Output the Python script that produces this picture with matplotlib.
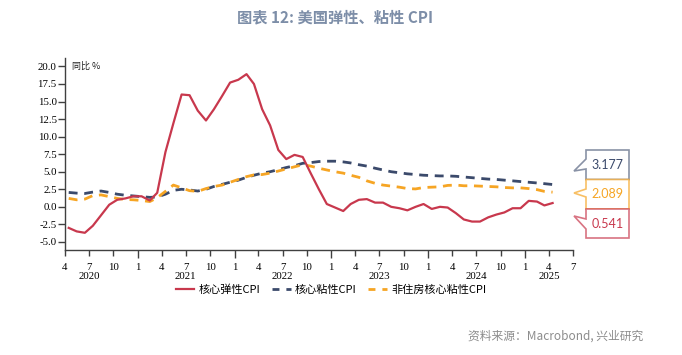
import numpy as np
import pandas as pd
import matplotlib
matplotlib.use("Agg")
from matplotlib import pyplot as plt
import matplotlib.dates as mdates
from matplotlib.patches import Polygon
from matplotlib.lines import Line2D

plt.rcParams['font.family'] = ['Noto Sans CJK SC', 'DejaVu Sans']

# monthly data, 2020-04 .. 2025-04
months = pd.date_range('2020-04-01', '2025-04-01', freq='MS') + pd.Timedelta(days=14)

flexible_core = [-3.0, -3.5, -3.7, -2.7, -1.2, 0.3, 1.0, 1.2, 1.5, 1.5,
                 0.9, 2.0, 7.8, 11.9, 16.0, 15.9, 13.7, 12.3, 13.9, 15.8,
                 17.7, 18.1, 18.9, 17.5, 13.9, 11.6, 8.1, 6.8, 7.4, 7.1,
                 4.8, 2.5, 0.4, -0.1, -0.6, 0.4, 1.0, 1.1, 0.6, 0.6,
                 0.0, -0.2, -0.5, 0.0, 0.4, -0.3, 0.0, -0.1, -0.9, -1.8,
                 -2.1, -2.1, -1.5, -1.1, -0.8, -0.2, -0.2, 0.85, 0.75, 0.2,
                 0.541]
sticky_core = [2.05, 1.95, 1.9, 2.1, 2.25, 2.05, 1.8, 1.65, 1.55, 1.45,
               1.35, 1.4, 1.8, 2.35, 2.5, 2.4, 2.25, 2.5, 2.9, 3.2,
               3.5, 3.8, 4.2, 4.5, 4.8, 5.0, 5.3, 5.6, 5.85, 6.2,
               6.3, 6.45, 6.5, 6.5, 6.4, 6.25, 6.0, 5.8, 5.5, 5.25,
               5.0, 4.85, 4.7, 4.6, 4.5, 4.45, 4.4, 4.4, 4.35, 4.25,
               4.15, 4.05, 3.95, 3.9, 3.8, 3.7, 3.6, 3.5, 3.4, 3.3,
               3.177]
sticky_ex_shelter = [1.2, 1.0, 1.1, 1.6, 1.7, 1.45, 1.2, 1.05, 1.0, 0.9,
                     0.75, 1.3, 2.2, 3.1, 2.7, 2.3, 2.2, 2.6, 2.9, 3.1,
                     3.5, 3.9, 4.3, 4.55, 4.6, 4.8, 5.1, 5.4, 5.7, 6.0,
                     5.8, 5.5, 5.25, 5.0, 4.8, 4.5, 4.2, 3.7, 3.35, 3.1,
                     2.95, 2.8, 2.6, 2.55, 2.75, 2.8, 2.85, 3.05, 3.1, 3.0,
                     3.0, 2.95, 2.9, 2.85, 2.75, 2.7, 2.7, 2.6, 2.45, 2.2,
                     2.089]

names = ['核心弹性CPI', '核心粘性CPI', '非住房核心粘性CPI']
colors = ['#C8384D', '#3B4A6B', '#F6A524']

years = ['2020', '2021', '2022', '2023', '2024', '2025']
year_pos = ['2020-07-01', '2021-07-01', '2022-07-01', '2023-07-01', '2024-07-01', '2025-04-01']

W, H = 682, 355
fig = plt.figure(figsize=(W / 100, H / 100), dpi=100)
ax = fig.add_axes([65 / W, 1 - 250 / H, 508 / W, 192 / H])

ax.plot(months, sticky_core, color=colors[1], lw=2.0, dashes=(3.2, 2.4), zorder=2)
ax.plot(months, sticky_ex_shelter, color=colors[2], lw=2.0, dashes=(3.2, 2.4), zorder=3)
ax.plot(months, flexible_core, color=colors[0], lw=1.6, zorder=4)

ax.set_xlim(pd.Timestamp('2020-04-01'), pd.Timestamp('2025-07-01'))
ax.set_ylim(-6.15, 21.2)
ax.set_yticks(np.arange(-5, 20.1, 2.5))
ax.yaxis.set_major_formatter(matplotlib.ticker.FormatStrFormatter('%.1f'))

ax.xaxis.set_major_locator(mdates.MonthLocator(bymonth=[1]))
ax.xaxis.set_minor_locator(mdates.MonthLocator(bymonth=[4, 7, 10]))
ax.xaxis.set_major_formatter(mdates.DateFormatter('%-m'))
ax.xaxis.set_minor_formatter(mdates.DateFormatter('%-m'))

for s in ['top', 'right']:
    ax.spines[s].set_visible(False)
for s in ['left', 'bottom']:
    ax.spines[s].set_color('#404040')
    ax.spines[s].set_linewidth(1.0)

tick_font = dict(family='Liberation Serif', size=7.8)
ax.tick_params(axis='y', which='major', length=5, width=1.0, color='#404040', pad=1)
ax.tick_params(axis='x', which='major', length=6, width=1.0, color='#404040', pad=3)
ax.tick_params(axis='x', which='minor', length=4, width=1.0, color='#404040', pad=5)
for lab in ax.get_yticklabels() + ax.get_xticklabels() + ax.get_xticklabels(minor=True):
    lab.set_fontfamily('Liberation Serif')
    lab.set_fontsize(7.8)

trans = matplotlib.transforms.blended_transform_factory(ax.transData, ax.transAxes)
for y, p in zip(years, year_pos):
    ax.text(mdates.date2num(pd.Timestamp(p)), -0.14, y, transform=trans,
            ha='center', va='center', **tick_font)

ax.text(0.014, 0.958, '同比 %', transform=ax.transAxes, fontsize=6.5,
        color='#222222', va='center', ha='left')

handles = [Line2D([], [], color=colors[0], lw=1.6),
           Line2D([], [], color=colors[1], lw=2.0, dashes=(2.5, 2.5)),
           Line2D([], [], color=colors[2], lw=2.0, dashes=(2.5, 2.5))]
fig.legend(handles, names, loc='center', bbox_to_anchor=(331 / W, 1 - 290 / H),
           ncol=3, frameon=False, fontsize=8, handlelength=1.7,
           handletextpad=0.4, columnspacing=1.0)

fig.text(335 / W, 1 - 17 / H, '图表 12: 美国弹性、粘性 CPI', ha='center', va='center',
         fontsize=11, fontweight='bold', color='#7D8EA8')
fig.text(643 / W, 1 - 336 / H, '资料来源：Macrobond, 兴业研究', ha='right', va='center',
         fontsize=8.5, color='#8C8C8C')


# callout boxes with last values
def px(x, y):
    return (x / W, 1 - y / H)


def callout(top, bottom, tail, value, color, edge_alpha):
    left, right = 586, 629
    t0, tip, t1 = tail
    pts = [px(left, top), px(right, top), px(right, bottom), px(left, bottom),
           px(left, t1), px(*tip), px(left, t0)]
    poly = Polygon(pts, closed=True, transform=fig.transFigure, facecolor='white',
                   edgecolor=matplotlib.colors.to_rgba(color, edge_alpha), lw=1.2)
    fig.add_artist(poly)
    fig.text((left + right) / 2 / W, 1 - (top + bottom) / 2 / H, f'{value:.3f}',
             ha='center', va='center', fontsize=9, family='Lato', color=color)


callout(150, 179.5, (159, (574, 171), 169), sticky_core[-1], colors[1], 0.6)
callout(179.5, 209, (189, (574, 193), 197), sticky_ex_shelter[-1], colors[2], 0.7)
callout(209, 238, (219, (574, 216), 229), flexible_core[-1], colors[0], 0.7)

fig.savefig('out.png', dpi=100)
